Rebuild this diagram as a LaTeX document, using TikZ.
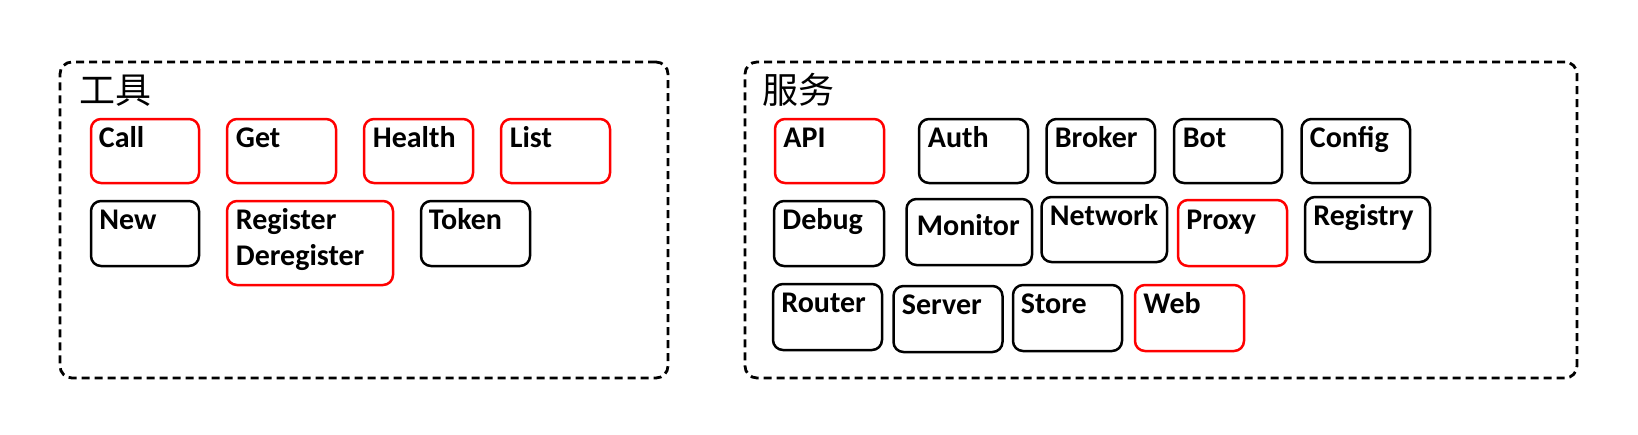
\documentclass[tikz,border=0pt]{standalone}
\usepackage{fontspec}
\setmainfont{Carlito}
\newfontfamily\cjk{Noto Sans CJK SC}
\usetikzlibrary{fit}
\begin{document}
\begin{tikzpicture}[x=0.5pt,y=-0.5pt,
 group/.style={draw=black, dash pattern=on 4pt off 2.5pt, line width=1.4pt, rounded corners=6pt, inner sep=0pt},
 item/.style={draw=black, line width=1.25pt, rounded corners=5pt, inner sep=0pt},
 hot/.style={item, draw=red},
 lbl/.style={font=\fontsize{15}{18.3}\selectfont\bfseries, inner sep=0pt, anchor=base west, align=left},
 ttl/.style={font=\cjk\fontsize{18}{18}\selectfont, inner sep=0pt, anchor=base west}]
\useasboundingbox (0,0) rectangle (1638,434);
% containers
\node[group, fit={(60,62) (668,378)}] (tools) {};
\node[group, fit={(745,62) (1577,378)}] (services) {};
\node[ttl] (toolsT) at (79,103) {工具};
\node[ttl] (servicesT) at (762,103) {服务};
% tools
\node[hot, fit={(91,119) (199,183)}] (call) {};
\node[hot, fit={(227,119) (336,183)}] (get) {};
\node[hot, fit={(364,119) (473,183)}] (health) {};
\node[hot, fit={(501,119) (610,183)}] (list) {};
\node[item, fit={(91,201) (199,266)}] (new) {};
\node[hot, fit={(227,201) (393,285)}] (register) {};
\node[item, fit={(421,201) (530,266)}] (token) {};
\node[lbl] (callT) at (98.5,147) {Call};
\node[lbl] (getT) at (235.5,147) {Get};
\node[lbl] (healthT) at (372.5,147) {Health};
\node[lbl] (listT) at (509.5,147) {List};
\node[lbl] (newT) at (99,229) {New};
\node[lbl] (registerT) at (235.5,229) {Register};
\node[lbl] (deregisterT) at (235.5,265.7) {Deregister};
\node[lbl] (tokenT) at (428.5,229) {Token};
% services
\node[hot, fit={(775,119) (884,183)}] (api) {};
\node[item, fit={(919,119) (1028,183)}] (auth) {};
\node[item, fit={(1046.5,119) (1155,183)}] (broker) {};
\node[item, fit={(1174,119) (1282,183)}] (bot) {};
\node[item, fit={(1301.5,119) (1410,183)}] (config) {};
\node[item, fit={(774,201) (884,266)}] (debug) {};
\node[item, fit={(906.5,199) (1032,265)}] (monitor) {};
\node[item, fit={(1041.5,197) (1167,262)}] (network) {};
\node[hot, fit={(1178,200) (1287,266)}] (proxy) {};
\node[item, fit={(1305,197) (1430,262)}] (registry) {};
\node[item, fit={(773,284) (882,350)}] (router) {};
\node[item, fit={(893.5,286) (1002.5,352)}] (server) {};
\node[item, fit={(1013,285) (1122,351)}] (store) {};
\node[hot, fit={(1135,285) (1244,351)}] (web) {};
\node[lbl] (apiT) at (783,147) {API};
\node[lbl] (authT) at (927.5,147) {Auth};
\node[lbl] (brokerT) at (1054.5,147) {Broker};
\node[lbl] (botT) at (1182.5,147) {Bot};
\node[lbl] (configT) at (1309.5,147) {Config};
\node[lbl] (debugT) at (782,229) {Debug};
\node[lbl] (monitorT) at (916.5,235) {Monitor};
\node[lbl] (networkT) at (1049.5,225) {Network};
\node[lbl] (proxyT) at (1186,229) {Proxy};
\node[lbl] (registryT) at (1313,225) {Registry};
\node[lbl] (routerT) at (781,312.7) {Router};
\node[lbl] (serverT) at (901.5,314.3) {Server};
\node[lbl] (storeT) at (1020.5,313) {Store};
\node[lbl] (webT) at (1143,313) {Web};
\end{tikzpicture}
\end{document}
